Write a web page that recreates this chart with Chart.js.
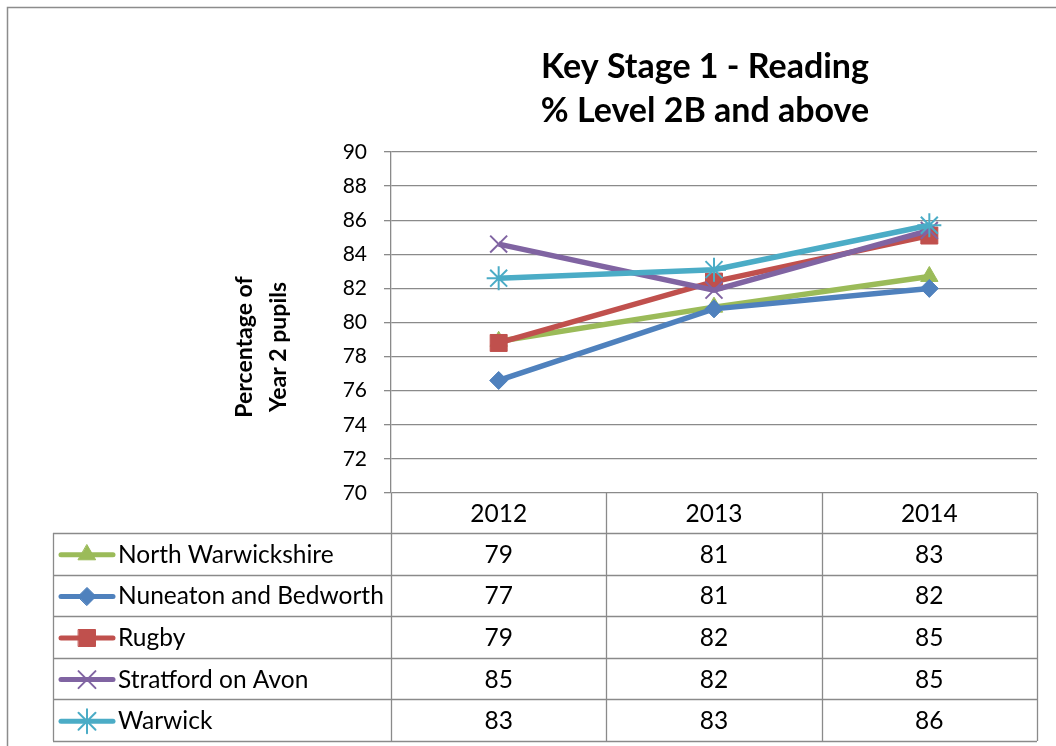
<!DOCTYPE html>
<html>
<head>
<meta charset="utf-8">
<title>Key Stage 1 - Reading</title>
<script src="https://cdn.jsdelivr.net/npm/chart.js@4/dist/chart.umd.min.js"></script>
<style>
  html, body { margin: 0; padding: 0; background: #fff; }
  #wrap { width: 1056px; height: 746px; overflow: hidden; }
</style>
</head>
<body>
<div id="wrap"><canvas id="ks1Chart" width="1056" height="746"></canvas></div>
<script>
// data
const years = ['2012', '2013', '2014'];
const northWarwickshire = [78.9, 80.9, 82.7];
const nuneatonBedworth = [76.6, 80.8, 82.0];
const rugby = [78.8, 82.4, 85.1];
const stratfordOnAvon = [84.6, 81.9, 85.4];
const warwick = [82.6, 83.1, 85.7];
const yTicks = [70, 72, 74, 76, 78, 80, 82, 84, 86, 88, 90];

const FONT = 'Lato, "Noto Sans", sans-serif';
const GRID = '#8a8a8a';

const series = [
    { label: 'North Warwickshire', data: northWarwickshire, color: '#9BBB59', style: 'triangle', radius: 10, bw: 1 },
    { label: 'Nuneaton and Bedworth', data: nuneatonBedworth, color: '#4F81BD', style: 'rectRot', radius: 9, bw: 1 },
    { label: 'Rugby', data: rugby, color: '#C0504D', style: 'rect', radius: 12, bw: 1 },
    { label: 'Stratford on Avon', data: stratfordOnAvon, color: '#8064A2', style: 'crossRot', radius: 12, bw: 2 },
    { label: 'Warwick', data: warwick, color: '#4BACC6', style: 'star', radius: 12, bw: 2 }
];

const drawMarker = (ctx, s, x, y) => {
    ctx.save();
    ctx.fillStyle = s.color;
    ctx.strokeStyle = s.color;
    ctx.lineWidth = s.bw;
    Chart.helpers.drawPoint(ctx, { pointStyle: s.style, radius: s.radius, rotation: 0, borderWidth: s.bw }, x, y);
    ctx.restore();
};

// frame, titles and the data table under the plot
const decorations = {
    id: 'decorations',
    beforeDraw(chart) {
        const ctx = chart.ctx;
        ctx.save();
        ctx.fillStyle = '#fff';
        ctx.fillRect(0, 0, chart.width, chart.height);
        ctx.strokeStyle = '#8c8c8c';
        ctx.lineWidth = 1.5;
        ctx.strokeRect(7.5, 7.5, 1200, 900);
        ctx.restore();
    },
    afterDraw(chart) {
        const ctx = chart.ctx;
        const area = chart.chartArea;
        const x = chart.scales.x;

        ctx.save();
        // title
        ctx.fillStyle = '#000';
        ctx.textAlign = 'center';
        ctx.textBaseline = 'middle';
        ctx.font = 'bold 34px ' + FONT;
        ctx.fillText('Key Stage 1 - Reading', 705, 67);
        ctx.fillText('% Level 2B and above', 705, 111);

        // y axis title
        ctx.save();
        ctx.translate(262, 347);
        ctx.rotate(-Math.PI / 2);
        ctx.font = 'bold 23px ' + FONT;
        ctx.fillText('Percentage of', 0, -17);
        ctx.fillText('Year 2 pupils', 0, 17);
        ctx.restore();

        // table grid
        const headTop = area.bottom;
        const headBottom = headTop + 40;
        const rowH = 41.6;
        const tableLeft = 53;
        const tableBottom = headBottom + rowH * series.length;
        const colW = (area.right - area.left) / years.length;

        ctx.strokeStyle = GRID;
        ctx.lineWidth = 1.3;
        ctx.beginPath();
        for (let i = 0; i <= years.length; i++) {
            const cx = Math.round(area.left + colW * i) + 0.5;
            ctx.moveTo(cx, headTop);
            ctx.lineTo(cx, tableBottom);
        }
        ctx.moveTo(tableLeft + 0.5, headBottom);
        ctx.lineTo(tableLeft + 0.5, tableBottom);
        for (let r = 0; r <= series.length; r++) {
            const ry = Math.round(headBottom + rowH * r) + 0.5;
            ctx.moveTo(tableLeft, ry);
            ctx.lineTo(area.right, ry);
        }
        ctx.stroke();

        // header years
        ctx.font = '24.5px ' + FONT;
        ctx.fillStyle = '#000';
        ctx.textAlign = 'center';
        years.forEach((yr, i) => {
            ctx.fillText(yr, x.getPixelForValue(i), (headTop + headBottom) / 2 + 1);
        });

        // rows
        series.forEach((s, r) => {
            const cy = headBottom + rowH * r + rowH / 2 + 1;
            ctx.strokeStyle = s.color;
            ctx.lineWidth = 5;
            ctx.lineCap = 'round';
            ctx.beginPath();
            ctx.moveTo(61, cy);
            ctx.lineTo(113, cy);
            ctx.stroke();
            drawMarker(ctx, s, 87, cy);

            ctx.fillStyle = '#000';
            ctx.textAlign = 'left';
            ctx.font = '24.5px ' + FONT;
            ctx.fillText(s.label, 118, cy);
            ctx.textAlign = 'center';
            s.data.forEach((v, i) => {
                ctx.fillText(String(Math.round(v)), x.getPixelForValue(i), cy);
            });
        });
        ctx.restore();
    }
};

new Chart(document.getElementById('ks1Chart'), {
    type: 'line',
    data: {
        labels: years,
        datasets: series.map((s, i) => ({
            label: s.label,
            data: s.data,
            borderColor: s.color,
            backgroundColor: s.color,
            borderWidth: 5.5,
            pointStyle: s.style,
            pointRadius: s.radius,
            pointBorderWidth: s.bw,
            pointBackgroundColor: s.color,
            pointBorderColor: s.color,
            tension: 0,
            fill: false,
            order: series.length - 1 - i
        }))
    },
    options: {
        responsive: false,
        animation: false,
        devicePixelRatio: 1,
        layout: { padding: { top: 152, left: 0, right: 19, bottom: 253 } },
        plugins: {
            legend: { display: false },
            title: { display: false },
            tooltip: { enabled: false }
        },
        scales: {
            x: { display: false, offset: true },
            y: {
                min: yTicks[0],
                max: yTicks[yTicks.length - 1],
                afterFit: scale => { scale.width = 391; },
                afterBuildTicks: scale => { scale.ticks = yTicks.map(v => ({ value: v })); },
                ticks: { color: '#000', padding: 17, font: { family: FONT, size: 21 } },
                grid: { color: GRID, lineWidth: 1.3, tickLength: 7 },
                border: { color: GRID, width: 1.3 }
            }
        }
    },
    plugins: [decorations]
});
</script>
</body>
</html>
